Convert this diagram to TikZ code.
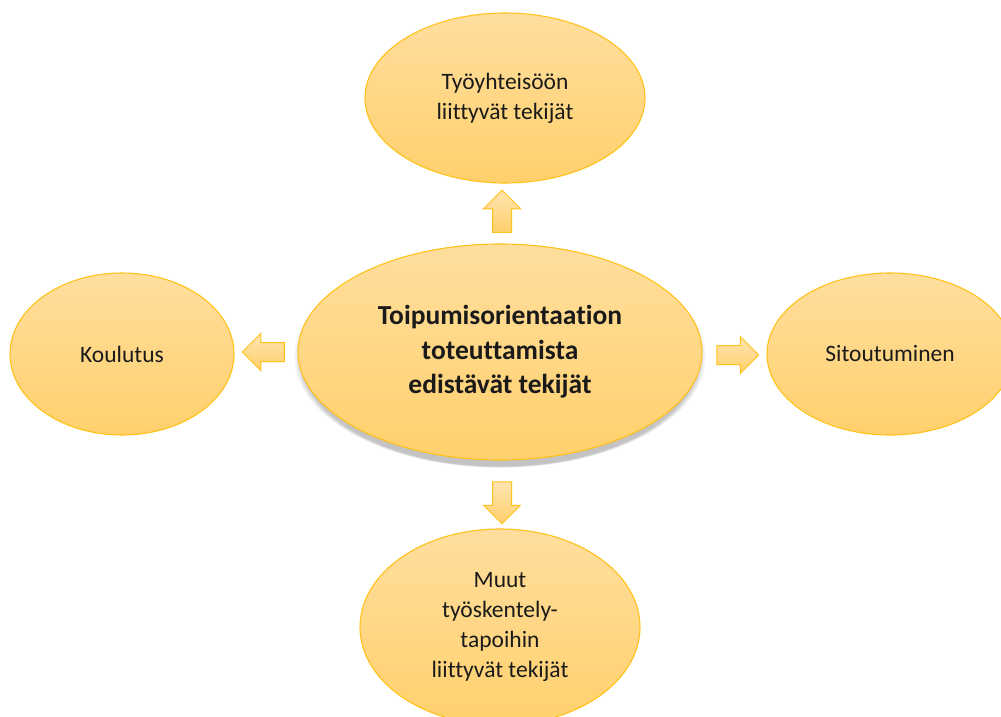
\documentclass[tikz,border=0pt]{standalone}
\usepackage{fontspec}
\setmainfont{Carlito}[RawFeature=-liga]
\usetikzlibrary{shapes.geometric,shapes.arrows}
\definecolor{fillTop}{HTML}{FFDE9E}
\definecolor{fillBot}{HTML}{FFD06C}
\definecolor{rimCol}{HTML}{FFC21A}
\definecolor{txtCol}{HTML}{1A1A1A}
\tikzset{
  bubble/.style={ellipse, draw=rimCol, line width=1.1bp, top color=fillTop, bottom color=fillBot,
    inner sep=0pt, text=txtCol, align=center,
    font=\fontsize{23.5bp}{30bp}\selectfont},
  mainbubble/.style={bubble, font=\fontsize{27.5bp}{34.5bp}\selectfont\bfseries},
  blockarrow/.style={single arrow, draw=rimCol, line width=1bp, top color=fillTop!80!white, bottom color=fillBot,
    inner sep=0pt, minimum height=42bp, minimum width=36bp, single arrow head extend=9bp,
    single arrow tip angle=90}
}
\newcommand{\shaftrule}{\rule{0pt}{18bp}}
\newcommand{\shaftruleV}{\rule{18bp}{0pt}}
\begin{document}
\begin{tikzpicture}[x=1bp,y=-1bp]
\useasboundingbox (0,0) rectangle (1001,717);
\fill[white] (0,0) rectangle (1001,717);
\clip (0,0) rectangle (1001,717);
% soft shadow under the central ellipse
\foreach \k in {1,...,8}{
  \fill[black, opacity=0.03] (500,{356+0.4*\k}) ellipse [x radius={202-1.2*\k+5}, y radius={108-0.6*\k+4}];
}
\node[mainbubble, minimum width=404bp, minimum height=216bp] (centre) at (500,352)
  {Toipumisorientaation\\toteuttamista\\edistävät tekijät};
\node[bubble, minimum width=280bp, minimum height=170bp] (top) at (505,98)
  {Työyhteisöön\\liittyvät tekijät};
\node[bubble, minimum width=224bp, minimum height=162bp] (left) at (122,354) {Koulutus};
\node[bubble, minimum width=246bp, minimum height=162bp] (right) at (890,354) {Sitoutuminen};
\node[bubble, minimum width=280bp, minimum height=196bp] (bottom) at (500,627)
  {Muut\\työskentely-\\tapoihin\\liittyvät tekijät};
\node[blockarrow, shape border rotate=90] (aUp) at (502,216) {\shaftruleV};
\node[blockarrow, shape border rotate=270] (aDown) at (502,498) {\shaftruleV};
\node[blockarrow, shape border rotate=180] (aLeft) at (268,352) {\shaftrule};
\node[blockarrow, shape border rotate=0] (aRight) at (733,355) {\shaftrule};
\end{tikzpicture}
\end{document}
